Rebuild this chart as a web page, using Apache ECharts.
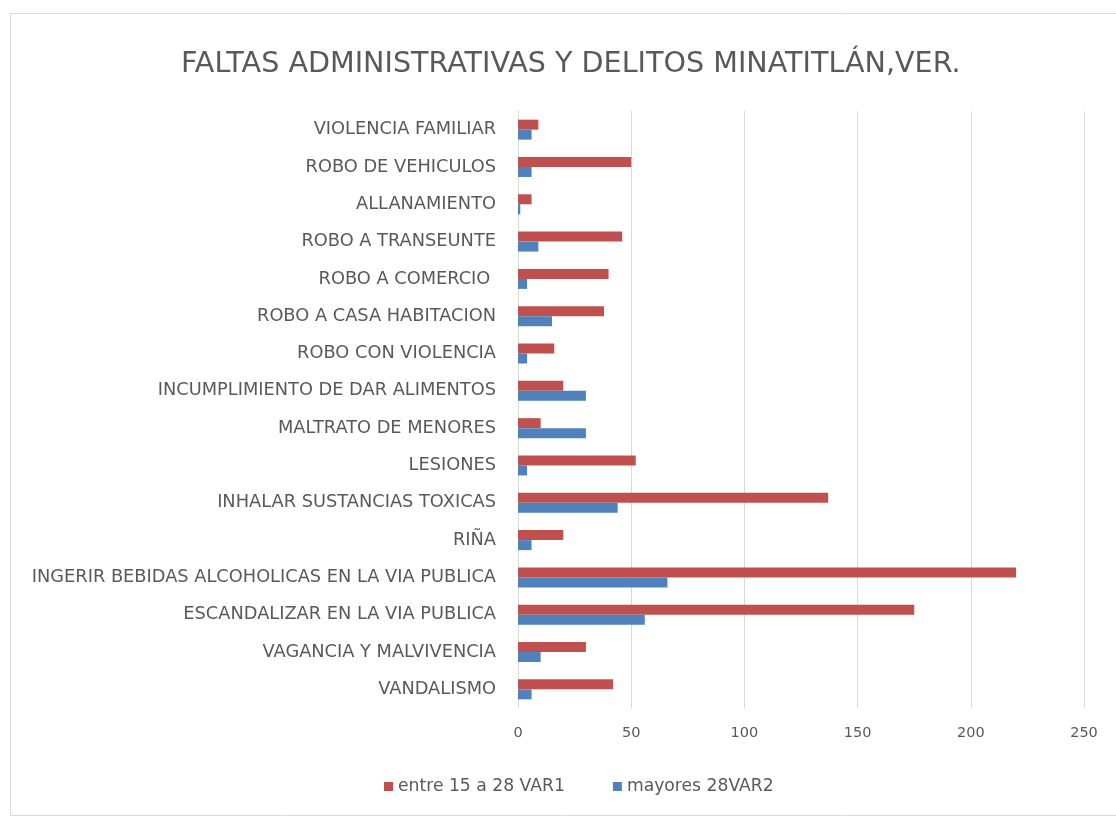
<!DOCTYPE html>
<html>
<head>
<meta charset="utf-8">
<script src="https://cdn.jsdelivr.net/npm/echarts@6/dist/echarts.min.js"></script>
<style>
html,body{margin:0;padding:0;background:#fff;}
#chart{width:1116px;height:822px;}
</style>
</head>
<body>
<div id="chart"></div>
<script>
// Categories listed bottom-to-top (as ECharts draws a y category axis)
const categories = [
  'VANDALISMO',
  'VAGANCIA Y MALVIVENCIA',
  'ESCANDALIZAR EN LA VIA PUBLICA',
  'INGERIR BEBIDAS ALCOHOLICAS EN LA VIA PUBLICA',
  'RIÑA',
  'INHALAR SUSTANCIAS TOXICAS',
  'LESIONES',
  'MALTRATO DE MENORES',
  'INCUMPLIMIENTO DE DAR ALIMENTOS',
  'ROBO CON VIOLENCIA',
  'ROBO A CASA HABITACION',
  'ROBO A COMERCIO ',
  'ROBO A TRANSEUNTE',
  'ALLANAMIENTO',
  'ROBO DE VEHICULOS',
  'VIOLENCIA FAMILIAR'
];
const seriesNames = ['entre 15 a 28 VAR1', 'mayores 28VAR2'];
const var1 = [42, 30, 175, 220, 20, 137, 52, 10, 20, 16, 38, 40, 46, 6, 50, 9];
const var2 = [6, 10, 56, 66, 6, 44, 4, 30, 30, 4, 15, 4, 9, 1, 6, 6];
const xTicks = { min: 0, max: 250, interval: 50 };
const titleText = 'FALTAS ADMINISTRATIVAS Y DELITOS MINATITLÁN,VER.';

const chart = echarts.init(document.getElementById('chart'), null, { renderer: 'canvas' });
const font = 'DejaVu Sans';
const textColor = '#595959';
chart.setOption({
  backgroundColor: '#fff',
  animation: false,
  title: {
    text: titleText,
    left: 176,
    top: 45,
    textStyle: { fontFamily: font, fontSize: 28.6, fontWeight: 'normal', color: textColor }
  },
  graphic: [{
    type: 'rect',
    shape: { x: 10.5, y: 13.5, width: 1140, height: 802 },
    style: { fill: 'none', stroke: '#d9d9d9', lineWidth: 1 },
    silent: true
  }],
  legend: {
    bottom: 22,
    left: 379,
    itemWidth: 9,
    itemHeight: 9,
    itemGap: 48,
    icon: 'rect',
    textStyle: { fontFamily: font, fontSize: 17.2, color: textColor }
  },
  grid: { left: 518, right: 32, top: 111, bottom: 114, containLabel: false },
  xAxis: {
    type: 'value',
    min: xTicks.min, max: xTicks.max, interval: xTicks.interval,
    axisLine: { show: false },
    axisTick: { show: false },
    axisLabel: { fontFamily: font, fontSize: 14.5, color: textColor, margin: 18 },
    splitLine: { show: true, lineStyle: { color: '#d9d9d9', width: 1 } }
  },
  yAxis: {
    type: 'category',
    data: categories,
    axisLine: { show: true, lineStyle: { color: '#d9d9d9' } },
    axisTick: { show: false },
    axisLabel: { fontFamily: font, fontSize: 17.8, color: textColor, margin: 22, interval: 0 }
  },
  series: [
    {
      name: seriesNames[0], type: 'bar', data: var1,
      itemStyle: { color: '#C0504D' },
      barWidth: 10, barGap: '0%'
    },
    {
      name: seriesNames[1], type: 'bar', data: var2,
      itemStyle: { color: '#4F81BD' },
      barWidth: 10, barGap: '0%'
    }
  ]
});
</script>
</body>
</html>
